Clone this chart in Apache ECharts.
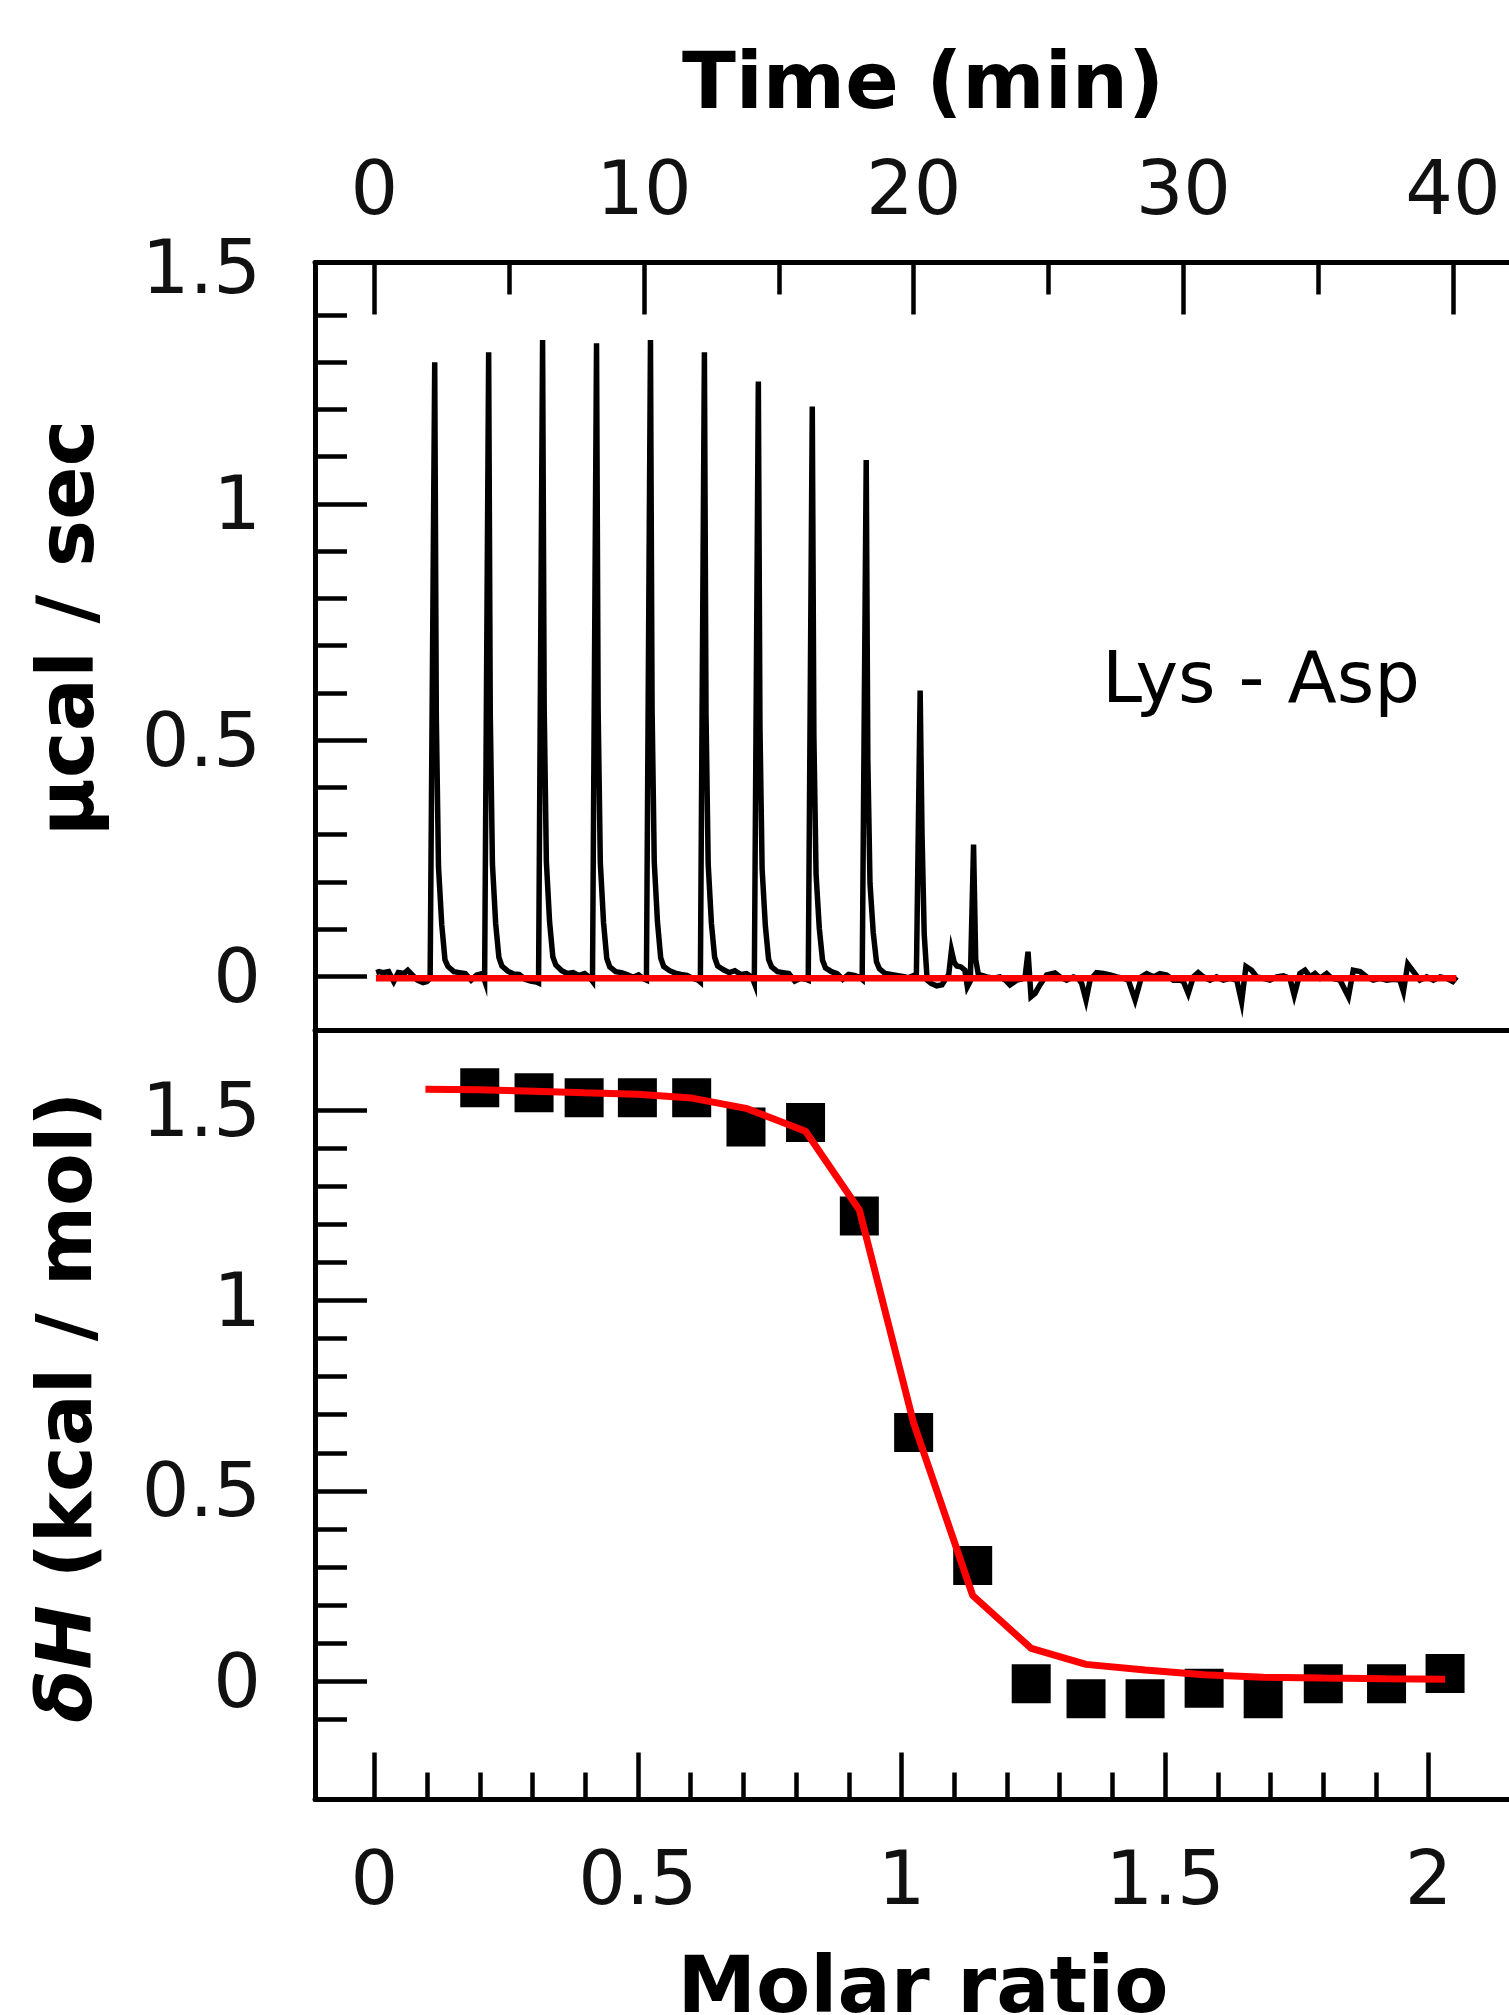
<!DOCTYPE html>
<html>
<head>
<meta charset="utf-8">
<script src="https://cdn.jsdelivr.net/npm/echarts@6/dist/echarts.min.js"></script>
<style>
  html, body { margin: 0; padding: 0; background: #fff; overflow: hidden; }
  #chart { width: 1540px; height: 2015px; }
</style>
</head>
<body>
<div id="chart"></div>
<script>
  var FONT = 'DejaVu Sans'

  //热流曲线 (min, µcal/sec) 每行一次注射
  var traceTime = [
    0.07, 0.18, 0.32, 0.53, 0.72, 0.89, 1.10, 1.24, 1.39, 1.60, 1.81, 1.95, 2.07,
    2.24, 2.30, 2.38, 2.50, 2.62, 2.73, 2.95, 3.16, 3.37, 3.59, 3.80, 4.01, 4.09,
    4.24, 4.30, 4.38, 4.50, 4.62, 4.73, 4.95, 5.16, 5.37, 5.59, 5.80, 6.01, 6.09,
    6.24, 6.30, 6.38, 6.50, 6.62, 6.73, 6.95, 7.16, 7.37, 7.59, 7.80, 8.01, 8.09,
    8.24, 8.30, 8.38, 8.50, 8.62, 8.73, 8.95, 9.16, 9.37, 9.59, 9.80, 10.01, 10.09,
    10.24, 10.30, 10.38, 10.50, 10.62, 10.73, 10.95, 11.16, 11.37, 11.59, 11.80, 12.01, 12.09,
    12.24, 12.30, 12.38, 12.50, 12.62, 12.73, 12.95, 13.16, 13.37, 13.59, 13.80, 14.01, 14.09,
    14.24, 14.30, 14.38, 14.50, 14.62, 14.73, 14.95, 15.16, 15.37, 15.59, 15.80, 16.01, 16.09,
    16.24, 16.30, 16.38, 16.50, 16.62, 16.73, 16.95, 17.16, 17.37, 17.59, 17.80, 18.01, 18.09,
    18.24, 18.30, 18.38, 18.50, 18.62, 18.73, 18.95, 19.16, 19.37, 19.59, 19.80, 20.01, 20.10,
    20.24, 20.31, 20.39, 20.50, 20.65, 20.85, 21.05, 21.20, 21.30, 21.40, 21.50, 21.60, 21.75, 21.90, 21.99, 22.10,
    22.22, 22.30, 22.40, 22.48, 22.71, 22.95, 23.20, 23.40, 23.57, 23.82, 24.00, 24.13,
    24.24, 24.35, 24.50, 24.68, 24.93, 25.24, 25.43, 25.67, 25.92, 26.10, 26.23,
    26.39, 26.54, 26.78, 27.03, 27.28, 27.53, 27.77, 27.96,
    28.21, 28.45, 28.64, 28.89, 29.13, 29.38, 29.63, 29.87, 30.00,
    30.18, 30.37, 30.55, 30.74, 30.99, 31.23, 31.48, 31.73, 31.98,
    32.16, 32.32, 32.53, 32.72, 32.96, 33.21, 33.46, 33.71, 33.95,
    34.11, 34.32, 34.51, 34.70, 34.88, 35.07, 35.31, 35.50, 35.81,
    36.12, 36.30, 36.55, 36.80, 37.04, 37.29, 37.54, 37.79, 38.03,
    38.16, 38.32, 38.53, 38.77, 39.02, 39.27, 39.52, 39.76, 39.99, 40.13
  ]
  var tracePower = [
    0.008, 0.010, 0.008, 0.010, -0.011, 0.008, 0.006, 0.013, 0.004, -0.008, -0.013, -0.011, -0.004,
    1.300, 0.545, 0.232, 0.110, 0.035, 0.021, 0.010, 0.008, 0.006, -0.008, 0.003, 0.006, -0.008,
    1.321, 0.555, 0.238, 0.112, 0.040, 0.022, 0.011, 0.005, 0.004, -0.006, -0.010, -0.012, -0.014,
    1.347, 0.566, 0.243, 0.115, 0.041, 0.024, 0.012, 0.006, 0.008, 0.002, 0.006, -0.004, -0.010,
    1.340, 0.563, 0.241, 0.114, 0.038, 0.020, 0.010, 0.008, 0.004, -0.002, 0.003, -0.006, -0.008,
    1.347, 0.566, 0.243, 0.115, 0.039, 0.021, 0.012, 0.007, 0.004, 0.002, -0.004, -0.008, -0.012,
    1.321, 0.555, 0.238, 0.112, 0.040, 0.022, 0.014, 0.008, 0.012, 0.004, 0.006, -0.002, -0.014,
    1.259, 0.529, 0.227, 0.107, 0.036, 0.020, 0.010, 0.008, 0.006, -0.010, -0.004, -0.006, -0.008,
    1.206, 0.507, 0.217, 0.102, 0.034, 0.018, 0.010, 0.006, -0.006, 0.004, 0.002, -0.002, -0.006,
    1.093, 0.459, 0.197, 0.093, 0.031, 0.016, 0.006, 0.004, 0.002, 0.000, -0.003, 0.002, 0.003,
    0.605, 0.300, 0.090, -0.008, -0.015, -0.020, -0.018, -0.004, 0.004, 0.055, 0.030, 0.022, 0.020, 0.013, -0.022, -0.010,
    0.279, 0.036, 0.003, 0.003, -0.001, -0.004, -0.001, -0.008, -0.018, -0.008, -0.006, -0.001,
    0.052, -0.043, -0.036, -0.018, 0.003, 0.007, -0.001, -0.008, -0.001, -0.004, -0.015,
    -0.050, -0.008, 0.008, 0.006, 0.003, -0.001, -0.004, -0.008,
    -0.050, -0.001, 0.006, -0.001, 0.006, 0.003, -0.008, -0.008, -0.011,
    -0.036, -0.001, 0.008, -0.001, -0.008, -0.001, -0.008, -0.004, -0.008,
    -0.054, 0.021, 0.013, -0.001, -0.004, -0.008, -0.001, 0.001, -0.004,
    -0.040, 0.006, 0.013, -0.001, 0.006, -0.004, 0.006, -0.004, -0.008,
    -0.043, 0.013, 0.010, -0.001, -0.008, -0.004, -0.008, -0.006, -0.008,
    -0.032, 0.026, 0.010, -0.008, -0.001, -0.008, -0.001, -0.004, -0.011, -0.001
  ]
  //基线 (红)
  var baselineTime = [0.06, 40.12]
  var baselinePower = [-0.004, -0.004]

  //积分热 与 拟合曲线
  var molarRatio = [0.200, 0.303, 0.398, 0.499, 0.602, 0.705, 0.818, 0.920, 1.023,
    1.135, 1.246, 1.350, 1.462, 1.574, 1.686, 1.800, 1.920, 2.031]
  var heatPerMol = [1.559, 1.546, 1.533, 1.533, 1.533, 1.456, 1.468, 1.222, 0.653,
    0.304, -0.007, -0.046, -0.046, -0.019, -0.046, -0.007, -0.007, 0.020]
  var fitRatio = [0.097, 0.200, 0.303, 0.398, 0.499, 0.602, 0.705, 0.818, 0.920, 1.023,
    1.135, 1.246, 1.350, 1.462, 1.574, 1.686, 1.800, 1.920, 2.031]
  var fitHeat = [1.555, 1.554, 1.550, 1.546, 1.542, 1.532, 1.505, 1.445, 1.238, 0.678,
    0.225, 0.086, 0.044, 0.029, 0.017, 0.010, 0.008, 0.006, 0.005]

  //刻度
  var timeMajor = [0, 10, 20, 30, 40]
  var timeMinor = [5, 15, 25, 35]
  var powerLabels = [0, 0.5, 1, 1.5]
  var powerMajor = [0, 0.5, 1]
  var powerMinor = [0.1, 0.2, 0.3, 0.4, 0.6, 0.7, 0.8, 0.9, 1.1, 1.2, 1.3, 1.4]
  var ratioMajor = [0, 0.5, 1, 1.5, 2]
  var ratioMinor = [0.1, 0.2, 0.3, 0.4, 0.6, 0.7, 0.8, 0.9, 1.1, 1.2, 1.3, 1.4, 1.6, 1.7, 1.8, 1.9]
  var heatMajor = [0, 0.5, 1, 1.5]
  var heatMinor = [-0.1, 0.1, 0.2, 0.3, 0.4, 0.6, 0.7, 0.8, 0.9, 1.1, 1.2, 1.3, 1.4]

  function zip(xs, ys){
    return xs.map(function(x, i){ return [x, ys[i]] })
  }

  var frame = { color: '#000', width: 5 }
  var tickLine = { color: '#000', width: 4.5 }
  var labelStyle = { fontSize: 75, fontFamily: FONT, color: '#111' }

  //生成一条坐标轴
  function makeAxis(opt){
    var axis = {
      type: 'value',
      gridIndex: opt.grid,
      position: opt.pos,
      min: opt.min,
      max: opt.max,
      axisLine: { show: !!opt.line, onZero: false, lineStyle: frame },
      axisTick: { show: !!opt.ticks, inside: true, length: opt.len || 0, lineStyle: tickLine },
      axisLabel: { show: false },
      splitLine: { show: false }
    }
    if(opt.ticks) axis.axisTick.customValues = opt.ticks
    if(opt.labels){
      axis.axisLabel = Object.assign({ show: true, customValues: opt.labels, margin: opt.margin }, labelStyle)
      if(opt.shiftDown){
        //左侧刻度文字略低于刻度线
        axis.axisLabel.formatter = '{n|{value}}'
        axis.axisLabel.rich = { n: Object.assign({ padding: [opt.shiftDown, 0, 0, 0] }, labelStyle) }
      }
    }
    return axis
  }

  var TMIN = -2.199, TMAX = 42.89
  var RMIN = -0.1125, RMAX = 2.194
  var PMIN = -0.115, PMAX = 1.511
  var HMIN = -0.311, HMAX = 1.709

  var option = {
    animation: false,
    backgroundColor: '#fff',
    grid: [
      { left: 315, top: 262.5, width: 1216, height: 768.2, outerBoundsMode: 'none' },
      { left: 315, top: 1030.7, width: 1216, height: 768.8, outerBoundsMode: 'none' }
    ],
    xAxis: [
      makeAxis({ grid: 0, pos: 'top', min: TMIN, max: TMAX, line: true, ticks: timeMajor, len: 52, labels: timeMajor, margin: 30 }),
      makeAxis({ grid: 0, pos: 'top', min: TMIN, max: TMAX, ticks: timeMinor, len: 32 }),
      makeAxis({ grid: 0, pos: 'bottom', min: TMIN, max: TMAX, line: true }),
      makeAxis({ grid: 1, pos: 'bottom', min: RMIN, max: RMAX, line: true, ticks: ratioMajor, len: 47, labels: ratioMajor, margin: 48 }),
      makeAxis({ grid: 1, pos: 'bottom', min: RMIN, max: RMAX, ticks: ratioMinor, len: 27 })
    ],
    yAxis: [
      makeAxis({ grid: 0, pos: 'left', min: PMIN, max: PMAX, line: true, ticks: powerMajor, len: 52, labels: powerLabels, margin: 54, shiftDown: 12 }),
      makeAxis({ grid: 0, pos: 'left', min: PMIN, max: PMAX, ticks: powerMinor, len: 32 }),
      makeAxis({ grid: 1, pos: 'left', min: HMIN, max: HMAX, line: true, ticks: heatMajor, len: 52, labels: heatMajor, margin: 54, shiftDown: 12 }),
      makeAxis({ grid: 1, pos: 'left', min: HMIN, max: HMAX, ticks: heatMinor, len: 32 })
    ],
    series: [
      {
        name: 'trace', type: 'line', xAxisIndex: 0, yAxisIndex: 0,
        data: zip(traceTime, tracePower), showSymbol: false, symbol: 'none',
        lineStyle: { color: '#000', width: 5.5, join: 'miter' }, z: 2
      },
      {
        name: 'baseline', type: 'line', xAxisIndex: 0, yAxisIndex: 0,
        data: zip(baselineTime, baselinePower), showSymbol: false, symbol: 'none',
        lineStyle: { color: '#ff0000', width: 6.5 }, z: 3
      },
      {
        name: 'heat', type: 'scatter', xAxisIndex: 3, yAxisIndex: 2,
        data: zip(molarRatio, heatPerMol), symbol: 'rect', symbolSize: 39,
        itemStyle: { color: '#000', opacity: 1 }, z: 2
      },
      {
        name: 'fit', type: 'line', xAxisIndex: 3, yAxisIndex: 2,
        data: zip(fitRatio, fitHeat), showSymbol: false, symbol: 'none',
        lineStyle: { color: '#ff0000', width: 7 }, z: 3
      }
    ],
    graphic: [
      {
        type: 'text', x: 923, y: 87,
        style: { text: 'Time (min)', fontFamily: FONT, fontWeight: 'bold', fontSize: 79, fill: '#000',
          align: 'center', verticalAlign: 'middle', textAlign: 'center', textVerticalAlign: 'middle' }
      },
      {
        type: 'text', x: 923, y: 1991,
        style: { text: 'Molar ratio', fontFamily: FONT, fontWeight: 'bold', fontSize: 79, fill: '#000',
          align: 'center', verticalAlign: 'middle', textAlign: 'center', textVerticalAlign: 'middle' }
      },
      {
        type: 'text', x: 72, y: 628, rotation: Math.PI / 2,
        style: { text: 'µcal / sec', fontFamily: FONT, fontWeight: 'bold', fontSize: 79, fill: '#000',
          align: 'center', verticalAlign: 'middle', textAlign: 'center', textVerticalAlign: 'middle' }
      },
      {
        type: 'text', x: 71, y: 1407, rotation: Math.PI / 2,
        style: {
          text: '{i|δH}{b| (kcal / mol)}',
          rich: {
            b: { fontFamily: FONT, fontWeight: 'bold', fontSize: 77, fill: '#000' },
            i: { fontFamily: FONT, fontWeight: 'bold', fontStyle: 'italic', fontSize: 77, fill: '#000' }
          },
          align: 'center', verticalAlign: 'middle', textAlign: 'center', textVerticalAlign: 'middle'
        }
      },
      {
        type: 'text', x: 1102, y: 683,
        style: { text: 'Lys - Asp', fontFamily: FONT, fontSize: 72, fill: '#000',
          align: 'left', verticalAlign: 'middle', textAlign: 'left', textVerticalAlign: 'middle' }
      }
    ]
  }

  var chart = echarts.init(document.getElementById('chart'), null, { renderer: 'canvas' })
  chart.setOption(option)
</script>
</body>
</html>
